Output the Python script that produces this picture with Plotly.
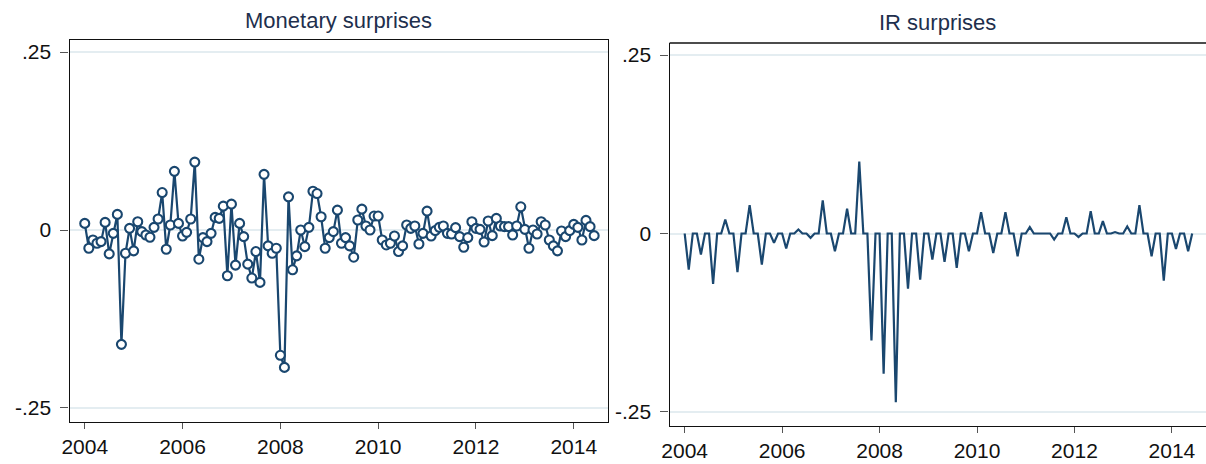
import plotly.graph_objects as go

# Monthly observations, 2004m1 .. 2014m6
start_year = 2004
n_months = 126

monetary_surprises = [
    0.0093, -0.0256, -0.0140, -0.0186, -0.0163, 0.0107, -0.0335, -0.0047, 0.0219, -0.1606, -0.0326, 0.0023,
    -0.0293, 0.0116, -0.0023, -0.0070, -0.0102, 0.0037, 0.0154, 0.0526, -0.0270, 0.0070, 0.0824, 0.0093,
    -0.0084, -0.0033, 0.0154, 0.0954, -0.0410, -0.0107, -0.0163, -0.0047, 0.0177, 0.0163, 0.0335, -0.0642,
    0.0363, -0.0493, 0.0093, -0.0093, -0.0480, -0.0675, -0.0303, -0.0736, 0.0782, -0.0223, -0.0326, -0.0256,
    -0.1760, -0.1930, 0.0466, -0.0559, -0.0363, 0.0000, -0.0233, 0.0037, 0.0545, 0.0512, 0.0186, -0.0256,
    -0.0107, -0.0023, 0.0279, -0.0186, -0.0107, -0.0223, -0.0382, 0.0140, 0.0293, 0.0056, 0.0000, 0.0196,
    0.0196, -0.0140, -0.0210, -0.0186, -0.0084, -0.0303, -0.0223, 0.0070, 0.0023, 0.0056, -0.0196, -0.0047,
    0.0265, -0.0084, -0.0009, 0.0037, 0.0056, -0.0047, -0.0056, 0.0033, -0.0093, -0.0242, -0.0107, 0.0116,
    0.0023, 0.0009, -0.0168, 0.0126, -0.0079, 0.0163, 0.0056, 0.0047, 0.0047, -0.0070, 0.0056, 0.0326,
    0.0009, -0.0256, 0.0000, -0.0056, 0.0116, 0.0070, -0.0140, -0.0223, -0.0293, -0.0014, -0.0093, -0.0009,
    0.0079, 0.0037, -0.0140, 0.0135, 0.0047, -0.0079,
]

ir_surprises = [
    0.0, -0.0506, 0.0, 0.0, -0.0295, 0.0, 0.0, -0.0707, 0.0, 0.0, 0.0197, 0.0,
    0.0, -0.0543, 0.0, 0.0, 0.0398, 0.0, 0.0, -0.0435, 0.0, 0.0, -0.0131, 0.0,
    0.0, -0.0211, 0.0, 0.0, 0.0056, 0.0, 0.0, -0.0060, 0.0, 0.0, 0.0463, 0.0,
    0.0, -0.0248, 0.0, 0.0, 0.0346, 0.0, 0.0, 0.1007, 0.0, 0.0, -0.1498, 0.0,
    0.0, -0.1966, 0.0, 0.0, -0.2364, 0.0, 0.0, -0.0772, 0.0, 0.0, -0.0646, 0.0,
    0.0, -0.0365, 0.0, 0.0, -0.0398, 0.0, 0.0, -0.0482, 0.0, 0.0, -0.0248, 0.0,
    0.0, 0.0300, 0.0, 0.0, -0.0272, 0.0, 0.0, 0.0300, 0.0, 0.0, -0.0318, 0.0,
    0.0, 0.0089, 0.0, 0.0, 0.0010, 0.0, 0.0, -0.0084, 0.0, 0.0, 0.0229, 0.0,
    0.0, -0.0051, 0.0, 0.0, 0.0314, 0.0, 0.0, 0.0173, 0.0, 0.0, 0.0020, 0.0,
    0.0, 0.0098, 0.0, 0.0, 0.0398, 0.0, 0.0, -0.0318, 0.0, 0.0, -0.0660, 0.0,
    0.0, -0.0215, 0.0, 0.0, -0.0248, 0.0,
]

x_tick_values = [2004, 2006, 2008, 2010, 2012, 2014]
x_tick_labels = ["2004", "2006", "2008", "2010", "2012", "2014"]
y_tick_values = [-0.25, 0, 0.25]
y_tick_labels = ["-.25", "0", ".25"]

dates = [start_year + i / 12 for i in range(n_months)]

NAVY = "#1a476f"
GRID = "#e4edf1"
FONT = "Liberation Sans, Arial, sans-serif"
W, H = 1206, 464

fig = go.Figure()

fig.add_trace(go.Scatter(
    x=dates, y=monetary_surprises, mode="lines+markers",
    line=dict(color=NAVY, width=2.2),
    marker=dict(symbol="circle", size=9, color="white",
                line=dict(color=NAVY, width=2.1)),
    xaxis="x", yaxis="y", showlegend=False,
))
fig.add_trace(go.Scatter(
    x=dates, y=ir_surprises, mode="lines",
    line=dict(color=NAVY, width=2.2),
    xaxis="x2", yaxis="y2", showlegend=False,
))

def px_x(p):
    return p / W

def px_y(p):
    return 1 - p / H

x_common = dict(
    range=[2003.69, 2014.70], tickvals=x_tick_values, ticktext=x_tick_labels,
    ticks="outside", ticklen=6, tickwidth=1, tickcolor="#555555",
    showgrid=False, zeroline=False, showline=True, linecolor="#111111", linewidth=1.4,
    tickfont=dict(family=FONT, size=21, color="#111111"),
)
y_common = dict(
    range=[-0.2697, 0.2669], tickvals=y_tick_values, ticktext=y_tick_labels,
    ticks="outside", ticklen=8, tickwidth=1, tickcolor="#555555",
    ticklabelstandoff=5,
    showgrid=True, gridcolor=GRID, gridwidth=2, zeroline=False,
    showline=True, linecolor="#111111", linewidth=1.4,
    tickfont=dict(family=FONT, size=21, color="#111111"),
)

RIGHT_TOP, RIGHT_BOTTOM = 43, 426

fig.update_layout(
    width=W, height=H,
    margin=dict(l=0, r=0, t=0, b=0),
    paper_bgcolor="white", plot_bgcolor="white",
    xaxis=dict(domain=[px_x(62), px_x(604)], anchor="y", mirror=True, **x_common),
    yaxis=dict(domain=[px_y(422), px_y(40)], anchor="x", mirror=True, **y_common),
    xaxis2=dict(domain=[px_x(666), 1.0], anchor="y2", **x_common),
    yaxis2=dict(domain=[px_y(RIGHT_BOTTOM), px_y(RIGHT_TOP)], anchor="x2", **y_common),
    annotations=[
        dict(text="Monetary surprises", x=(px_x(62) + px_x(604)) / 2, y=px_y(21),
             xref="paper", yref="paper", xanchor="center", yanchor="middle",
             showarrow=False, font=dict(family=FONT, size=22, color="#1e2f4d")),
        dict(text="IR surprises", x=(px_x(666) + px_x(1206)) / 2, y=px_y(23),
             xref="paper", yref="paper", xanchor="center", yanchor="middle",
             showarrow=False, font=dict(family=FONT, size=22, color="#1e2f4d")),
    ],
)

# top border of the right panel (its right edge lies past the page)
fig.add_shape(type="line", xref="paper", yref="paper",
              x0=px_x(666), x1=1.0, y0=px_y(RIGHT_TOP), y1=px_y(RIGHT_TOP),
              line=dict(color="#111111", width=1.4))

fig.write_html("out.html")
